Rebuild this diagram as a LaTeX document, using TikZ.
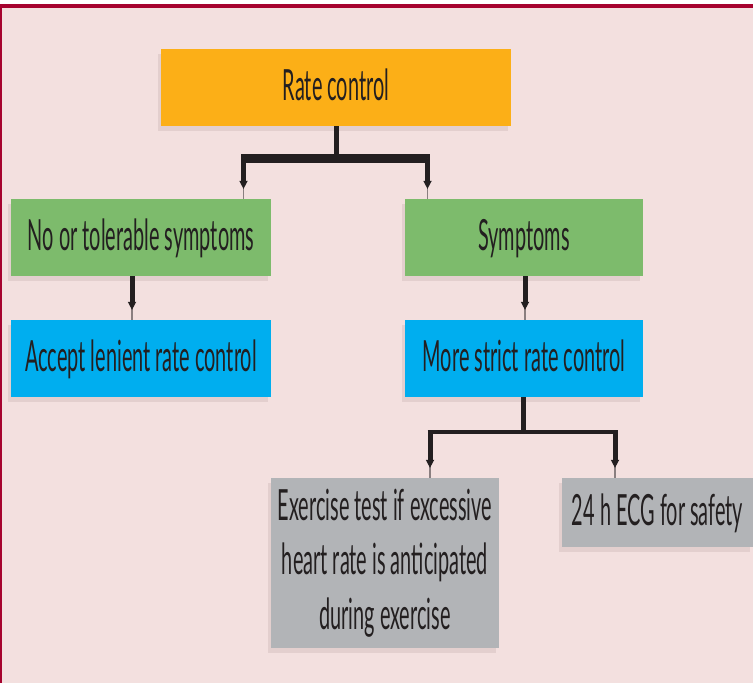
\documentclass[tikz,border=0pt]{standalone}
\usepackage{fontspec}
\newfontfamily\boxfont[FakeStretch=0.463]{Lato}
\usetikzlibrary{arrows.meta,shadows,calc}
\definecolor{bg}{HTML}{F3E0DF}
\definecolor{frame}{HTML}{A6032F}
\definecolor{orangebox}{HTML}{FCAF17}
\definecolor{greenbox}{HTML}{7DBB6C}
\definecolor{bluebox}{HTML}{00AEEF}
\definecolor{graybox}{HTML}{B2B4B7}
\definecolor{ink}{HTML}{231F20}
\definecolor{stemc}{HTML}{8A7F80}
\definecolor{shadowc}{HTML}{D9C5C4}
\tikzset{
  box/.style={draw=none, inner sep=0pt, align=center, text=ink,
    font=\boxfont\fontsize{43}{54.5}\selectfont,
    drop shadow={shadow xshift=-3pt, shadow yshift=-5pt, fill=shadowc, opacity=0.6}},
  oneline/.style={text height=31pt, text depth=5pt},
  conn/.style={draw=ink, line width=5pt},
  hbar/.style={draw=ink, line cap=butt},
  stem/.style={draw=stemc, line width=1.5pt},
  tipped/.style={conn, -{Triangle[length=8pt,width=8.5pt,line width=0pt]}, shorten >=10pt}
}
\begin{document}
\begin{tikzpicture}[x=1pt,y=-1pt]
\useasboundingbox (0,0) rectangle (753,683);
\fill[white] (0,0) rectangle (753,683);
\fill[bg] (2,8) rectangle (753,683);
\fill[frame] (0,4) rectangle (753,8);
\fill[frame] (0,4) rectangle (2,683);

\node[box, oneline, fill=orangebox, minimum width=350pt, minimum height=77pt] (rate) at (336,87.5) {Rate control};
\node[box, oneline, fill=greenbox, minimum width=260pt, minimum height=77pt] (notol) at (141,237.5) {No or tolerable symptoms};
\node[box, oneline, fill=greenbox, minimum width=238pt, minimum height=77pt] (symp) at (524,237.5) {Symptoms};
\node[box, oneline, fill=bluebox, minimum width=260pt, minimum height=77pt] (accept) at (141,358.5) {Accept lenient rate control};
\node[box, oneline, fill=bluebox, minimum width=238pt, minimum height=77pt] (strict) at (524,358.5) {More strict rate control};
\node[box, fill=graybox, minimum width=228pt, minimum height=170pt] (exer) at (385,563) {Exercise test if excessive\\heart rate is anticipated\\during exercise};
\node[box, oneline, fill=graybox, minimum width=191pt, minimum height=69pt] (ecg) at (657.5,512.5) {24 h ECG for safety};

% top split
\coordinate (j0) at (336,158.5);
\coordinate (jl) at (243.5,158.5);
\coordinate (jr) at (427.5,158.5);
\draw[conn] (rate.south) -- (j0);
\draw[hbar, line width=8.5pt, shorten <=-2.5pt, shorten >=-2.5pt] (jl) -- (jr);
\draw[stem] (jl) -- (jl |- notol.north);
\draw[tipped] (jl) -- (jl |- notol.north);
\draw[stem] (jr) -- (jr |- symp.north);
\draw[tipped] (jr) -- (jr |- symp.north);

% green to blue
\coordinate (a1) at ($(notol.south)+(-9,0)$);
\draw[stem] (a1) -- (a1 |- accept.north);
\draw[tipped] (a1) -- (a1 |- accept.north);
\coordinate (a2) at ($(symp.south)+(1,0)$);
\draw[stem] (a2) -- (a2 |- strict.north);
\draw[tipped] (a2) -- (a2 |- strict.north);

% bottom split
\coordinate (s0) at ($(strict.south)+(-1,0)$);
\coordinate (k0) at (523,432);
\coordinate (kl) at (430,432);
\coordinate (kr) at (615,432);
\draw[conn] (s0) -- (k0);
\draw[hbar, line width=4.5pt, shorten <=-2.5pt, shorten >=-2.5pt] (kl) -- (kr);
\draw[stem] (kl) -- (kl |- exer.north);
\draw[tipped] (kl) -- (kl |- exer.north);
\draw[stem] (kr) -- (kr |- ecg.north);
\draw[tipped] (kr) -- (kr |- ecg.north);
\end{tikzpicture}
\end{document}
